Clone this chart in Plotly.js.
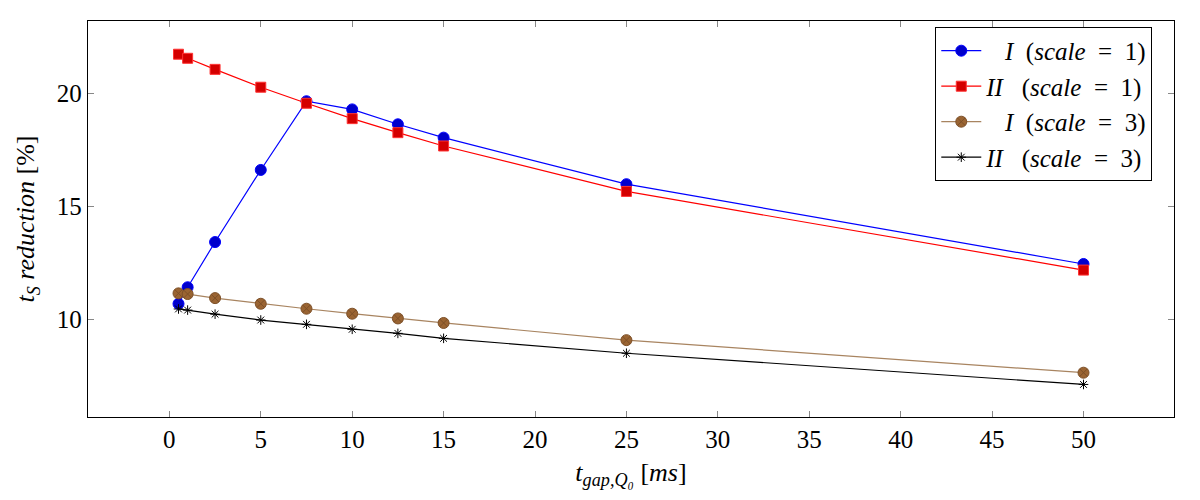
<!DOCTYPE html>
<html>
<head>
<meta charset="utf-8">
<script src="https://cdn.plot.ly/plotly-3.0.1.min.js"></script>
<style>
  html, body { margin: 0; padding: 0; background: #fff; }
  #chart { width: 1200px; height: 500px; }
</style>
</head>
<body>
<div id="chart"></div>
<script>
// gap times in ms
var gapTimes = [0.5, 1, 2.5, 5, 7.5, 10, 12.5, 15, 25, 50];

// ts reduction in %
var redI1  = [10.69, 11.42, 13.42, 16.61, 19.65, 19.29, 18.63, 18.04, 15.98, 12.45];
var redII1 = [21.73, 21.55, 21.06, 20.27, 19.56, 18.88, 18.26, 17.67, 15.66, 12.18];
var redI3  = [11.15, 11.12, 10.94, 10.69, 10.47, 10.25, 10.04, 9.84, 9.08, 7.64];
var redII3 = [10.46, 10.41, 10.23, 9.97, 9.78, 9.56, 9.38, 9.16, 8.50, 7.12];

var xTicks = [0, 5, 10, 15, 20, 25, 30, 35, 40, 45, 50];
var yTicks = [10, 15, 20];

var FONT = "Liberation Serif";
var SP = "\u00a0";

function series(y, name, lineColor, symbol, fill, edge, size) {
    return {
        x: gapTimes,
        y: y,
        name: name,
        type: "scatter",
        mode: "lines+markers",
        line: {color: lineColor, width: 1.2},
        marker: {symbol: symbol, size: size, color: fill, line: {color: edge, width: 1}}
    };
}

// legend labels, padded a bit since the math font in the original is wider
function label(roman, scale) {
    var lead = roman == "I" ? SP + SP + SP : "";
    var gap = roman == "I" ? SP + SP : SP + SP + SP;
    return lead + "<i>" + roman + "</i>" + gap + "(<i>scale</i>" + SP + SP + "=" + SP + SP + scale + ")";
}

var traces = [
    series(redI1, label("I", 1), "#0000ff", "circle", "#0000cc", "#0000ff", 11),
    series(redII1, label("II", 1), "#ff0000", "square", "#d40000", "#ff3333", 10),
    series(redI3, label("I", 3), "#a88460", "circle-x", "#9a6432", "#7d5028", 11),
    series(redII3, label("II", 3), "#000000", "asterisk-open", "#000000", "#000000", 8)
];

var layout = {
    width: 1200,
    height: 500,
    margin: {l: 88, r: 26, t: 21, b: 83},
    paper_bgcolor: "#ffffff",
    plot_bgcolor: "#ffffff",
    font: {family: FONT, size: 25, color: "#000"},
    showlegend: true,
    legend: {
        x: 0.98, y: 0.985, xanchor: "right", yanchor: "top",
        bgcolor: "#ffffff", bordercolor: "#000", borderwidth: 1,
        font: {family: FONT, size: 25},
        tracegroupgap: 0, itemwidth: 40
    },
    xaxis: {
        range: [-4.45, 54.95],
        tickmode: "array",
        tickvals: xTicks,
        ticktext: xTicks.map(String),
        ticks: "inside", ticklen: 6, tickcolor: "#888",
        showline: true, linecolor: "#000", linewidth: 1.2, mirror: "allticks",
        showgrid: false, zeroline: false,
        tickfont: {family: FONT, size: 25, color: "#000"},
        title: {text: "<i>t<sub>gap,Q₀</sub></i>" + SP + "[<i>ms</i>]", font: {family: FONT, size: 26}, standoff: 10}
    },
    yaxis: {
        range: [5.68, 23.2],
        tickmode: "array",
        tickvals: yTicks,
        ticktext: yTicks.map(String),
        ticks: "inside", ticklen: 6, tickcolor: "#888",
        showline: true, linecolor: "#000", linewidth: 1.2, mirror: "allticks",
        showgrid: false, zeroline: false,
        tickfont: {family: FONT, size: 25, color: "#000"},
        title: {text: "<i>t<sub>S</sub> reduction</i>" + SP + "[%]", font: {family: FONT, size: 26}, standoff: 14}
    }
};

Plotly.newPlot("chart", traces, layout, {displayModeBar: false, staticPlot: true});
</script>
</body>
</html>
